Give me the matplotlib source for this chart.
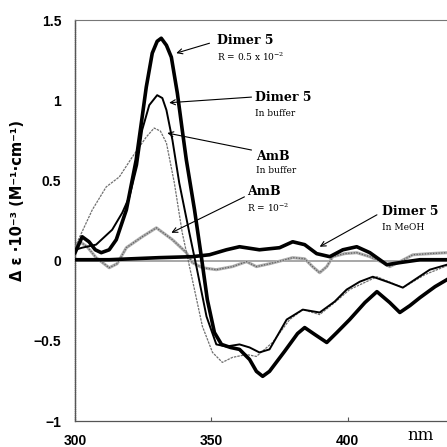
import matplotlib
matplotlib.use("Agg")
import matplotlib.pyplot as plt

# wavelength (nm) / delta epsilon * 1e-3
dimer_r_nm = [300.0, 302.6, 305.1, 307.4, 309.6, 312.5, 315.1, 318.8, 322.4, 324.6,
              326.1, 328.3, 330.1, 331.6, 333.5, 335.3, 337.5, 339.3, 340.8, 343.8,
              346.3, 348.5, 351.1, 353.7, 357.0, 360.3, 364.0, 366.5, 368.8, 371.3,
              376.8, 381.6, 384.2, 387.9, 392.3, 396.0, 400.7, 406.3, 410.7, 415.4,
              419.1, 422.8, 426.5, 432.0, 436.4]
dimer_r_val = [0.050, 0.149, 0.118, 0.068, 0.050, 0.068, 0.131, 0.317, 0.628, 0.896,
               1.082, 1.294, 1.368, 1.387, 1.343, 1.269, 1.045, 0.815, 0.628, 0.317,
               0.025, -0.243, -0.448, -0.522, -0.541, -0.553, -0.616, -0.690, -0.721, -0.690,
               -0.566, -0.454, -0.417, -0.460, -0.510, -0.448, -0.367, -0.261, -0.193, -0.261,
               -0.323, -0.280, -0.230, -0.162, -0.118]

dimer_buf_nm = [300.0, 302.6, 307.7, 313.6, 317.3, 319.9, 322.8, 324.6, 327.2, 330.1,
                332.0, 333.5, 335.7, 338.2, 341.9, 344.5, 348.2, 351.8, 355.5, 360.3,
                364.0, 367.6, 371.3, 377.6, 383.5, 389.7, 395.2, 399.6, 404.4, 409.2,
                415.4, 420.2, 424.6, 430.1, 436.4]
dimer_buf_val = [0.068, 0.081, 0.100, 0.193, 0.299, 0.398, 0.597, 0.815, 0.970, 1.032,
                 1.014, 0.939, 0.752, 0.485, 0.174, -0.037, -0.348, -0.522, -0.535, -0.522,
                 -0.541, -0.572, -0.553, -0.367, -0.305, -0.323, -0.255, -0.180, -0.131, -0.100,
                 -0.137, -0.168, -0.118, -0.056, -0.025]

amb_buf_nm = [300.0, 306.3, 311.4, 316.2, 321.0, 326.1, 329.0, 331.3, 333.5, 336.4,
              339.3, 343.0, 346.7, 350.4, 354.0, 357.7, 362.9, 366.5, 372.4, 378.7,
              383.5, 389.7, 395.2, 400.7, 410.7, 420.2, 428.3, 436.4]
amb_buf_val = [0.087, 0.317, 0.460, 0.522, 0.647, 0.771, 0.827, 0.808, 0.734, 0.485,
               0.174, -0.118, -0.410, -0.572, -0.634, -0.603, -0.585, -0.597, -0.510, -0.367,
               -0.305, -0.336, -0.261, -0.180, -0.100, -0.168, -0.087, -0.031]

amb_r_nm = [300.0, 301.8, 304.4, 307.7, 312.5, 315.4, 318.8, 324.6, 329.8, 335.7,
            340.8, 343.0, 346.7, 351.8, 357.7, 362.9, 366.5, 371.3, 375.7, 379.8,
            384.2, 387.1, 389.7, 392.3, 394.5, 398.9, 403.3, 408.1, 412.9, 415.4,
            419.1, 423.9, 430.1, 436.4]
amb_r_val = [0.081, 0.118, 0.087, 0.019, -0.044, -0.019, 0.081, 0.149, 0.205, 0.131,
             0.050, -0.012, -0.044, -0.056, -0.037, -0.006, -0.037, -0.019, 0.0, 0.019,
             0.012, -0.037, -0.075, -0.037, 0.025, 0.044, 0.050, 0.025, -0.012, -0.037,
             -0.006, 0.037, 0.044, 0.050]

dimer_meoh_nm = [300.0, 312.5, 330.9, 343.0, 349.3, 355.5, 360.3, 367.6, 375.0, 379.8,
                 384.2, 388.6, 393.4, 398.2, 403.3, 408.1, 414.3, 419.1, 426.5, 436.4]
dimer_meoh_val = [0.006, 0.006, 0.019, 0.025, 0.037, 0.068, 0.087, 0.068, 0.081, 0.118,
                  0.100, 0.044, 0.025, 0.068, 0.087, 0.050, -0.025, -0.012, 0.006, 0.006]

xticks = [300, 350, 400]
yticks = [-1, -0.5, 0, 0.5, 1, 1.5]
ytick_labels = ["\u22121", "\u22120.5", "0", "0.5", "1", "1.5"]

plt.rcParams["mathtext.fontset"] = "dejavuserif"

fig = plt.figure(figsize=(4.47, 4.47), dpi=100)
ax = fig.add_axes([0.168, 0.058, 0.832, 0.897])

ax.axhline(0, color="#a0a0a0", lw=1.3, zorder=1)

ax.plot(amb_r_nm, amb_r_val, color="#b0b0b0", lw=2.2, zorder=2)
ax.plot(amb_r_nm, amb_r_val, color="#606060", lw=0.9, ls=(0, (1, 1.2)), zorder=2)
ax.plot(amb_buf_nm, amb_buf_val, color="#707070", lw=0.9, ls=(0, (2, 0.8)), zorder=3)
ax.plot(dimer_buf_nm, dimer_buf_val, color="black", lw=1.4, zorder=4)
ax.plot(dimer_r_nm, dimer_r_val, color="black", lw=2.6, zorder=5)
ax.plot(dimer_meoh_nm, dimer_meoh_val, color="black", lw=2.6, zorder=5)

ax.set_xlim(300, 436.4)
ax.set_ylim(-1, 1.5)
ax.set_xticks(xticks)
ax.set_xticklabels([str(t) for t in xticks])
ax.set_yticks(yticks)
ax.set_yticklabels(ytick_labels)
for lab in ax.get_xticklabels() + ax.get_yticklabels():
    lab.set_family("Liberation Sans")
    lab.set_fontweight("bold")
    lab.set_fontsize(10)
ax.tick_params(axis="x", direction="in", length=3, width=0.8, pad=9, color="#555555")
ax.tick_params(axis="y", direction="in", length=0, pad=10)

ax.spines["right"].set_visible(False)
ax.spines["top"].set_color("#777777")
ax.spines["top"].set_linestyle((0, (3, 1)))
ax.spines["top"].set_linewidth(0.8)
ax.spines["left"].set_color("#555555")
ax.spines["left"].set_linestyle((0, (1, 0.5)))
ax.spines["left"].set_linewidth(1.0)
ax.spines["bottom"].set_color("#555555")
ax.spines["bottom"].set_linewidth(0.9)

ax.set_ylabel("\u0394 \u03b5 \u00b710\u207b\u00b3 (M\u207b\u00b9\u00b7cm\u207b\u00b9)",
              family="DejaVu Sans", fontweight="bold", fontsize=10.5)
ax.yaxis.set_label_coords(-0.135, 0.55)

fig.text(421 / 447, 1 - 436 / 447, "nm", family="DejaVu Serif", fontsize=12,
         ha="center", va="center")

big = dict(family="DejaVu Serif", fontsize=9, fontweight="bold", va="center", ha="left")
small = dict(family="DejaVu Serif", fontsize=6.5, va="center", ha="left")
arrow = dict(arrowstyle="->", lw=0.8, color="black", mutation_scale=9,
             shrinkA=0, shrinkB=0)

ax.text(352.2, 1.37, "Dimer 5", **big)
ax.text(352.2, 1.27, r"R = 0.5 x 10$^{-2}$", **small)
ax.annotate("", xy=(337.1, 1.294), xytext=(349.3, 1.356), arrowprops=arrow)

ax.text(365.8, 1.02, "Dimer 5", **big)
ax.text(366.0, 0.92, "In buffer", **small)
ax.annotate("", xy=(334.5, 0.985), xytext=(364.7, 1.02), arrowprops=arrow)

ax.text(366.5, 0.647, "AmB", **big)
ax.text(366.5, 0.56, "In buffer", **small)
ax.annotate("", xy=(333.8, 0.796), xytext=(364.7, 0.69), arrowprops=arrow)

ax.text(362.9, 0.43, "AmB", **big)
ax.text(362.9, 0.33, r"R = 10$^{-2}$", **small)
ax.annotate("", xy=(335.3, 0.174), xytext=(362.1, 0.398), arrowprops=arrow)

ax.text(412.5, 0.305, "Dimer 5", **big)
ax.text(412.7, 0.205, "In MeOH", **small)
ax.annotate("", xy=(389.7, 0.087), xytext=(410.7, 0.286), arrowprops=arrow)

fig.savefig("out.png", dpi=100)
